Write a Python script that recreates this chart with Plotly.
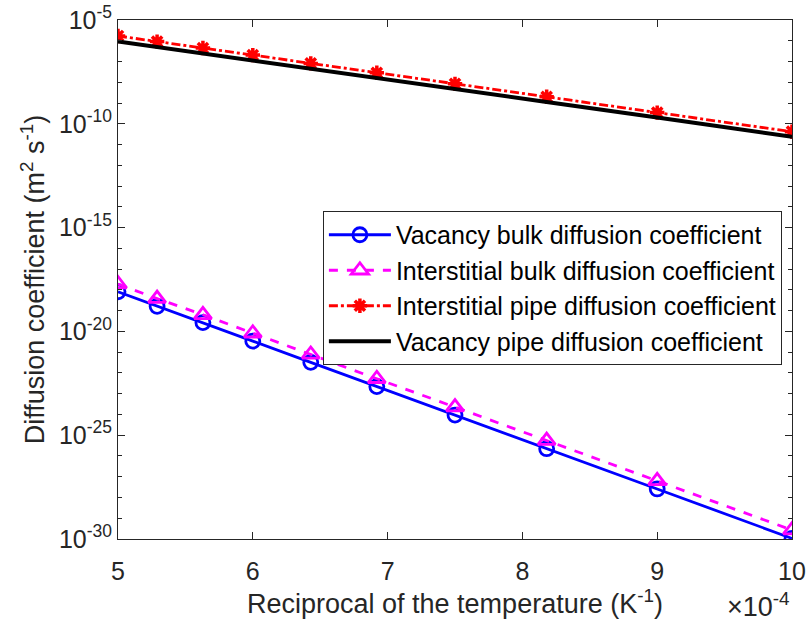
import plotly.graph_objects as go

# Reciprocal temperature, in units of 1e-4 K^-1
inv_temp = [5.0, 5.29, 5.63, 6.0, 6.43, 6.92, 7.5, 8.18, 9.0, 10.0]

# Diffusion coefficients (m^2 s^-1)
vac_bulk = [8.13e-19, 1.62e-19, 2.66e-20, 3.39e-21, 3.24e-22,
            2.19e-23, 9.33e-25, 2.24e-26, 2.57e-28, 1.07e-30]
int_bulk = [1.91e-18, 3.80e-19, 6.31e-20, 8.13e-21, 7.76e-22,
            5.25e-23, 2.26e-24, 5.50e-26, 6.31e-28, 2.69e-30]
int_pipe = [1.70e-6, 9.12e-7, 4.47e-7, 2.04e-7, 8.13e-8,
            2.88e-8, 8.41e-9, 2.00e-9, 3.47e-10, 4.17e-11]
vac_pipe = [9.12e-7, 4.90e-7, 2.45e-7, 1.10e-7, 4.47e-8,
            1.58e-8, 4.68e-9, 1.12e-9, 2.00e-10, 2.40e-11]

x_ticks = [5, 6, 7, 8, 9, 10]
y_exps = [-30, -25, -20, -15, -10, -5]

FONT = "Liberation Sans, Arial, sans-serif"
AX = "#262626"
TICK_SIZE = 25
TITLE_SIZE = 27

fig = go.Figure()
fig.add_trace(go.Scatter(
    x=inv_temp, y=vac_bulk, mode="lines+markers",
    name="Vacancy bulk diffusion coefficient",
    line=dict(color="#0000ff", width=2.8),
    marker=dict(symbol="circle-open", size=14, color="#0000ff",
                line=dict(width=2.8, color="#0000ff")),
))
fig.add_trace(go.Scatter(
    x=inv_temp, y=int_bulk, mode="lines+markers",
    name="Interstitial bulk diffusion coefficient",
    line=dict(color="#ff00ff", width=2.8, dash="dash"),
    marker=dict(symbol="triangle-up-open", size=15, color="#ff00ff",
                line=dict(width=2.8, color="#ff00ff")),
))
fig.add_trace(go.Scatter(
    x=inv_temp, y=int_pipe, mode="lines+markers",
    name="Interstitial pipe diffusion coefficient",
    line=dict(color="#ff0000", width=2.8, dash="dashdot"),
    marker=dict(symbol="asterisk-open", size=12, color="#ff0000",
                line=dict(width=3.5, color="#ff0000")),
))
fig.add_trace(go.Scatter(
    x=inv_temp, y=vac_pipe, mode="lines",
    name="Vacancy pipe diffusion coefficient",
    line=dict(color="#000000", width=4),
))

fig.update_layout(
    template="none",
    width=807, height=624,
    margin=dict(l=118, r=15, t=20, b=85),
    paper_bgcolor="white", plot_bgcolor="white",
    font=dict(family=FONT, size=TICK_SIZE, color=AX),
    showlegend=True,
    legend=dict(
        x=0.304, y=0.632, xanchor="left", yanchor="top",
        bgcolor="white", bordercolor=AX, borderwidth=1,
        font=dict(family=FONT, size=25, color="#000000"),
        itemwidth=62, tracegroupgap=0,
    ),
)

fig.update_xaxes(
    range=[5, 10], tickvals=x_ticks, ticktext=[str(v) for v in x_ticks],
    ticks="inside", ticklen=7, tickcolor=AX, tickwidth=1,
    ticklabelstandoff=10,
    showline=True, linecolor=AX, linewidth=1, mirror="ticks",
    showgrid=False, zeroline=False, automargin=False,
    tickfont=dict(family=FONT, size=TICK_SIZE, color=AX),
    title=dict(text="Reciprocal of the temperature (K<sup>-1</sup>)",
               font=dict(family=FONT, size=TITLE_SIZE, color=AX), standoff=4),
)

fig.update_yaxes(
    type="log", range=[-30, -5],
    tickvals=[10.0 ** e for e in y_exps],
    ticktext=["10<sup>%d</sup>" % e for e in y_exps],
    ticks="inside", ticklen=7, tickcolor=AX, tickwidth=1,
    minor=dict(tickvals=[10.0 ** e for e in range(-30, -4)],
               ticks="inside", ticklen=4, tickcolor=AX),
    showline=True, linecolor=AX, linewidth=1, mirror="ticks",
    showgrid=False, zeroline=False, automargin=False,
    tickfont=dict(family=FONT, size=TICK_SIZE, color=AX),
    title=dict(text="Diffusion coefficient (m<sup>2</sup> s<sup>-1</sup>)",
               font=dict(family=FONT, size=TITLE_SIZE, color=AX), standoff=6),
)

fig.add_annotation(
    text="\u00d710<sup>-4</sup>", xref="paper", yref="paper",
    x=1.0, y=-0.128, xanchor="right", yanchor="middle", showarrow=False,
    font=dict(family=FONT, size=27, color=AX),
)

fig.write_html("out.html")
